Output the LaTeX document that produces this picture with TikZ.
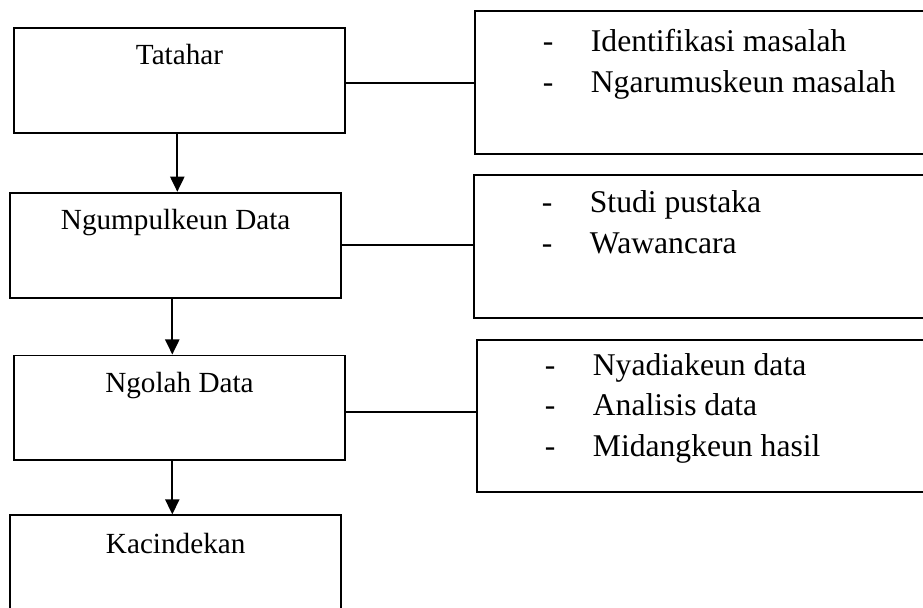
\documentclass[tikz,border=0pt]{standalone}
\usepackage{fontspec}
\setmainfont{Liberation Serif}
\usetikzlibrary{calc,positioning,arrows.meta}
\newcommand{\itm}[1]{\makebox[19.7pt][l]{-}#1}
\begin{document}
\begin{tikzpicture}[x=0.411pt, y=-0.411pt, line width=0.8pt,
  main/.style = {draw, rectangle, inner sep=0pt, minimum width=136pt, text height=15.2pt, text depth=27.9pt, font=\fontsize{12}{14.4}\selectfont},
  sub/.style = {draw, rectangle, inner sep=0pt, minimum width=205pt},
  items/.style = {anchor=base west, inner sep=0pt, font=\fontsize{13}{16.85}\selectfont},
  arr/.style = {-{Triangle[length=6.2pt, width=5.8pt]}}]
		\useasboundingbox (0,0) rectangle (923,608);
		\clip (0,0) rectangle (923,608);
		\node[main, anchor=base] (tatahar) at (179.5,65) {Tatahar};
		\node[main] (kumpul) [below=23.8pt of tatahar, xshift=-1.56pt] {Ngumpulkeun Data};
		\node[main] (olah) [below=23pt of kumpul, xshift=1.56pt] {Ngolah Data};
		\node[main, text height=15.6pt, text depth=41pt] (kacindekan) [below=21.8pt of olah, xshift=-1.56pt] {Kacindekan};
		\node[sub, minimum height=58.8pt] (r1) [right=52.5pt of tatahar, yshift=-0.82pt] {};
		\node[sub, minimum height=58.8pt] (r2) [right=53.8pt of kumpul, yshift=-0.41pt] {};
		\node[sub, minimum height=62.5pt] (r3) [right=53.4pt of olah, yshift=-3.3pt] {};
		\node[items] (i1) at (542,52) {\begin{tabular}[t]{@{}l@{}}\itm{Identifikasi masalah}\\ \itm{Ngarumuskeun masalah}\end{tabular}};
		\node[items] (i2) at (541,213) {\begin{tabular}[t]{@{}l@{}}\itm{Studi pustaka}\\ \itm{Wawancara}\end{tabular}};
		\node[items] (i3) at (544,375) {\begin{tabular}[t]{@{}l@{}}\itm{Nyadiakeun data}\\ \itm{Analisis data}\\ \itm{Midangkeun hasil}\end{tabular}};
		\draw[arr] ([xshift=-0.9pt]tatahar.south) -- ([xshift=-0.9pt]tatahar.south |- kumpul.north);
		\draw[arr] ([xshift=-1.4pt]kumpul.south) -- ([xshift=-1.4pt]kumpul.south |- olah.north);
		\draw[arr] ([xshift=-1.4pt]kacindekan.north |- olah.south) -- ([xshift=-1.4pt]kacindekan.north);
		\draw[-] ([yshift=-1.1pt]tatahar.east) -- ([yshift=-1.1pt]tatahar.east -| r1.west);
		\draw[-] (kumpul.east) -- (kumpul.east -| r2.west);
		\draw[-] ([yshift=-1.6pt]olah.east) -- ([yshift=-1.6pt]olah.east -| r3.west);
	\end{tikzpicture}
\end{document}
